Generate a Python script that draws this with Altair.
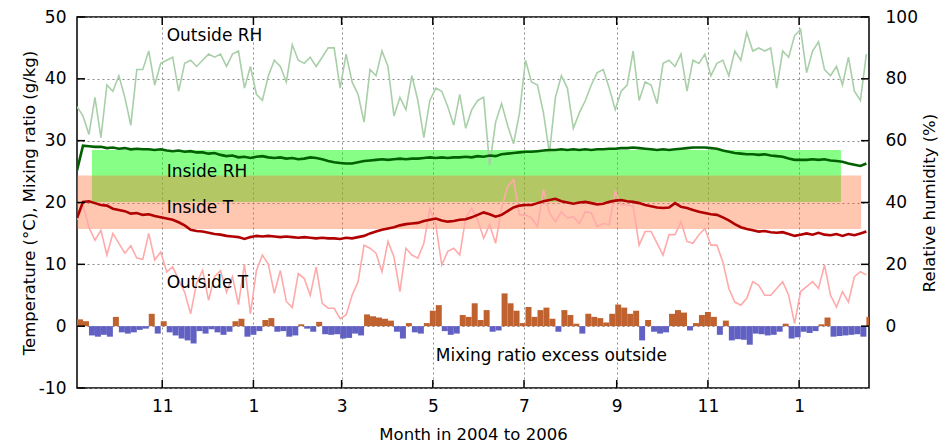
import altair as alt
import pandas as pd

# ---------------- data (one value every 4 days) ----------------
start_date = "2004-09-05"
step_days = 4

outside_rh = [71, 68, 62, 74, 61, 78, 76, 81, 74, 65, 83, 83, 89, 78, 85,
              86, 87, 76, 85, 86, 84, 86, 88, 87, 88, 84, 88, 89, 77, 84,
              75, 73, 81, 86, 84, 79, 91, 86, 85, 87, 84, 87, 90, 90, 77,
              88, 79, 75, 66, 83, 81, 89, 84, 68, 74, 70, 81, 73, 61, 73,
              77, 76, 71, 65, 75, 64, 70, 73, 74, 52, 66, 72, 65, 59, 69,
              86, 79, 78, 69, 56, 74, 81, 77, 64, 69, 73, 78, 82, 83, 77,
              70, 76, 78, 89, 73, 79, 78, 72, 85, 86, 84, 88, 76, 86, 85,
              88, 81, 85, 86, 81, 89, 86, 95, 89, 90, 89, 90, 77, 89, 87,
              94, 96, 82, 89, 92, 83, 81, 84, 78, 87, 76, 73, 88]

inside_rh = [50.4, 58.4, 58.2, 58.0, 58.0, 57.6, 57.8, 57.4, 57.6, 57.2, 57.4, 57.2, 57.2, 57.0, 57.2,
             56.8, 56.6, 56.8, 56.4, 56.6, 56.2, 56.2, 55.8, 56.0, 55.4, 55.0, 55.2, 54.6, 54.8, 54.4,
             54.8, 55.0, 54.6, 54.4, 54.6, 54.2, 54.4, 54.0, 54.2, 54.6, 54.4, 54.0, 53.4, 53.0, 52.8,
             52.6, 52.6, 53.0, 53.4, 53.6, 53.8, 54.0, 53.8, 54.0, 54.2, 54.0, 54.2, 54.2, 54.4, 54.6,
             54.4, 54.6, 54.4, 54.6, 54.6, 54.8, 54.6, 55.0, 54.8, 55.2, 55.0, 55.6, 55.8, 56.0, 56.2,
             56.4, 56.4, 56.6, 56.8, 57.0, 57.0, 57.2, 57.0, 57.2, 57.0, 57.2, 57.0, 57.2, 57.2, 57.4,
             57.4, 57.6, 57.6, 57.8, 57.6, 57.4, 57.2, 57.0, 57.2, 57.0, 57.2, 57.4, 57.6, 57.8, 57.8,
             57.8, 57.6, 57.4, 56.8, 56.4, 56.0, 55.8, 55.6, 55.6, 55.4, 55.6, 55.2, 55.0, 54.8, 54.2,
             53.8, 53.8, 53.8, 54.0, 53.8, 54.0, 53.6, 53.4, 53.2, 52.6, 52.2, 51.8, 52.6]

inside_t = [17.5, 20.1, 20.2, 19.9, 19.6, 19.5, 19.0, 18.8, 18.6, 18.2, 18.3, 18.0, 18.1, 17.8, 17.6,
            17.4, 17.2, 16.8, 16.3, 15.6, 15.4, 15.3, 15.1, 14.9, 14.8, 14.6, 14.5, 14.4, 14.1, 14.4,
            14.6, 14.5, 14.6, 14.5, 14.4, 14.5, 14.4, 14.3, 14.4, 14.3, 14.2, 14.3, 14.2, 14.2, 14.1,
            14.3, 14.2, 14.4, 14.6, 15.0, 15.3, 15.6, 15.8, 16.0, 16.3, 16.5, 16.6, 16.7, 17.0, 17.2,
            17.4, 17.1, 16.9, 17.0, 17.2, 17.3, 17.6, 18.0, 18.4, 18.1, 17.7, 18.0, 18.6, 19.2, 19.5,
            19.6, 19.6, 19.9, 20.2, 20.4, 20.6, 20.2, 20.0, 19.8, 20.0, 20.1, 19.9, 19.7, 19.8, 20.1,
            20.3, 20.4, 20.2, 20.1, 19.9, 19.6, 19.4, 19.2, 19.1, 19.2, 19.9, 19.3, 19.1, 18.8, 18.5,
            18.3, 18.1, 18.0, 17.6, 17.1, 16.5, 16.0, 15.7, 15.5, 15.3, 15.4, 15.2, 15.1, 15.2, 14.9,
            14.6, 14.8, 15.0, 14.8, 15.1, 14.8, 14.7, 14.9, 14.6, 14.9, 14.7, 15.0, 15.3]

outside_t = [17.2, 19.5, 16.0, 13.9, 15.5, 11.5, 15.0, 13.4, 11.8, 13.0, 11.0, 10.8, 15.0, 10.7, 12.0,
             8.8, 9.6, 7.5, 5.5, 2.0, 7.0, 9.0, 4.2, 8.0, 9.0, 5.5, 8.0, 3.5, 10.0, 2.0,
             9.0, 11.5, 10.0, 5.3, 9.0, 4.0, 3.0, 8.5, 7.7, 5.0, 9.6, 3.7, 2.9, 2.9, 1.2,
             1.8, 5.0, 7.2, 13.1, 12.6, 11.8, 8.8, 13.7, 11.2, 5.6, 12.6, 11.5, 11.0, 13.4, 19.0,
             16.4, 9.9, 12.1, 12.6, 11.5, 17.5, 19.1, 17.2, 14.2, 16.4, 13.4, 19.1, 22.6, 23.7, 18.0,
             18.0, 17.5, 16.1, 22.1, 18.3, 16.9, 18.5, 17.5, 17.7, 16.6, 18.5, 18.3, 16.1, 16.6, 16.4,
             21.8, 19.6, 19.6, 19.4, 13.1, 15.3, 15.3, 13.4, 11.5, 14.8, 14.8, 16.9, 13.7, 13.4, 14.8,
             15.8, 13.1, 13.1, 10.4, 6.1, 3.9, 3.4, 4.5, 7.2, 6.6, 5.0, 5.0, 6.1, 7.2, 5.0,
             0.4, 5.6, 6.4, 7.2, 6.1, 9.9, 5.0, 3.1, 5.6, 3.9, 8.0, 8.8, 8.3]

mix_excess = [1.1, 0.8, -1.5, -1.7, -1.4, -1.7, 1.5, -1.0, -1.2, -1.0, -0.6, -0.4, 2.0, -1.2, 0.8,
              -1.0, -1.5, -2.0, -2.3, -2.8, -0.8, -1.2, -0.5, -1.0, -1.4, -0.9, 0.8, 1.2, -1.7, -1.4,
              -0.8, 1.0, 1.3, -0.9, -0.8, -1.7, -1.5, 0.3, -0.4, -0.9, 0.7, -1.3, -1.4, -1.3, -2.0,
              -1.9, -1.2, -1.5, 1.9, 1.6, 1.4, 1.2, 0.9, -0.9, -2.0, 0.5, -1.0, -1.2, 0.5, 2.5,
              3.4, -0.8, -1.4, -1.2, 1.8, 1.5, 3.7, 1.0, 2.6, -0.9, -0.7, 5.3, 3.7, 2.5, 0.5,
              3.1, 1.5, 2.6, 3.0, 1.2, -0.9, 2.6, 1.8, 0.4, -1.2, 2.0, 1.5, 1.3, 0.6, 2.0,
              3.5, 3.0, 2.0, 2.5, -2.3, 1.0, -0.9, -1.2, -1.0, 2.0, 2.6, 2.2, -0.7, 0.5, 1.8,
              2.3, 1.5, -1.4, 0.9, -2.3, -2.1, -2.2, -3.0, -1.2, -1.3, -1.5, -1.4, -0.9, 0.4, -2.0,
              -1.8, -0.9, -1.1, -0.8, 0.3, 1.4, -1.7, -1.6, -1.5, -1.4, -1.3, -1.7, 1.5]

tick_months = ["2004-11-01", "2005-01-01", "2005-03-01", "2005-05-01",
               "2005-07-01", "2005-09-01", "2005-11-01", "2006-01-01"]
left_ticks = [-10, 0, 10, 20, 30, 40, 50]
right_ticks = [0, 20, 40, 60, 80, 100]

zone_start = ["2004-09-15 00:00", "2004-09-01 00:00"]
zone_end = ["2006-01-29 00:00", "2006-02-11 12:00"]
zone_low = [20.1, 15.7]
zone_high = [28.5, 24.35]

label_text = ["Outside RH", "Inside RH", "Inside T", "Outside T", "Mixing ratio excess outside"]
label_date = ["2004-11-04", "2004-11-04", "2004-11-04", "2004-11-04", "2005-05-03"]
label_value = [47.0, 25.0, 19.05, 7.0, -4.9]

# ---------------- tables ----------------
dates = pd.date_range(start_date, periods=len(outside_rh), freq=f"{step_days}D")
series = pd.DataFrame({
    "date": dates,
    "date_end": dates + pd.Timedelta(days=step_days),
    "outside_rh": outside_rh,
    "inside_rh": inside_rh,
    "inside_t": inside_t,
    "outside_t": outside_t,
    "mix": mix_excess,
})
zones = pd.DataFrame({"start": pd.to_datetime(zone_start, format="%Y-%m-%d %H:%M"),
                      "end": pd.to_datetime(zone_end, format="%Y-%m-%d %H:%M"),
                      "low": zone_low, "high": zone_high})
labels = pd.DataFrame({"text": label_text, "date": pd.to_datetime(label_date), "value": label_value})
month_df = pd.DataFrame({"date": pd.to_datetime(tick_months)})
left_df = pd.DataFrame({"v": left_ticks})
right_df = pd.DataFrame({"v": right_ticks})

W, H = 792, 371
FONT = "DejaVu Sans"
FS = 17
TFS = 16.5

xscale = alt.Scale(domain=[alt.DateTime(year=2004, month=9, date=5),
                           alt.DateTime(year=2006, month=2, date=16, hours=18)])
yscale = alt.Scale(domain=[-10, 50], nice=False, zero=False)
rhscale = alt.Scale(domain=[-20, 100], nice=False, zero=False)

xaxis = alt.Axis(values=[alt.DateTime(year=int(d[:4]), month=int(d[5:7]), date=1) for d in tick_months],
                 format="%-m", grid=True, gridDash=[2, 3], gridColor="#8a8a8a", gridWidth=1,
                 tickSize=0, domain=False, labelPadding=10, titlePadding=12,
                 title="Month in 2004 to 2006")
yaxis = alt.Axis(values=left_ticks, grid=True, gridDash=[2, 3], gridColor="#8a8a8a", gridWidth=1,
                 tickSize=0, domain=False, labelPadding=11, titlePadding=1,
                 labelExpr="toString(datum.value)",
                 title="Temperature (°C), Mixing ratio (g/kg)")
rhaxis = alt.Axis(values=right_ticks, orient="right", grid=False, tickSize=0, domain=False,
                  labelPadding=16, titlePadding=4, titleAngle=270, titleBaseline="top",
                  title="Relative humidity (%)")


def X(field):
    return alt.X(field, type="temporal", scale=xscale, axis=xaxis)


def Y(field):
    return alt.Y(field, type="quantitative", scale=yscale, axis=yaxis)


def YR(field):
    return alt.Y(field, type="quantitative", scale=rhscale, axis=rhaxis)


green = alt.Chart(zones.iloc[[0]]).mark_rect(color="#00ff00", opacity=0.47, clip=True).encode(
    x=X("start:T"), x2="end:T", y=Y("low:Q"), y2="high:Q")
orange = alt.Chart(zones.iloc[[1]]).mark_rect(color="#ff6828", opacity=0.37, clip=True).encode(
    x=X("start:T"), x2="end:T", y=Y("low:Q"), y2="high:Q")

bars = alt.Chart(series).mark_rect(clip=True).encode(
    x=X("date:T"), x2="date_end:T",
    y=Y("mix:Q"), y2=alt.datum(0),
    color=alt.condition(alt.datum.mix > 0, alt.value("#c0622f"), alt.value("#6161c4")))

out_t = alt.Chart(series).mark_line(color="#ffaaaa", strokeWidth=1.6, clip=True).encode(
    x=X("date:T"), y=Y("outside_t:Q"))
in_t = alt.Chart(series).mark_line(color="#b00000", strokeWidth=2.6, clip=True).encode(
    x=X("date:T"), y=Y("inside_t:Q"))

texts = alt.Chart(labels).mark_text(align="left", baseline="middle", font=FONT, fontSize=FS,
                                    color="black").encode(
    x=X("date:T"), y=Y("value:Q"), text="text:N")

tick_style = dict(color="black", strokeWidth=1.5)
top_ticks = alt.Chart(month_df).mark_rule(**tick_style).encode(
    x=X("date:T"), y=alt.value(0), y2=alt.value(8))
bottom_ticks = alt.Chart(month_df).mark_rule(**tick_style).encode(
    x=X("date:T"), y=alt.value(H - 8), y2=alt.value(H))
lticks = alt.Chart(left_df).mark_rule(**tick_style).encode(
    y=Y("v:Q"), x=alt.value(0), x2=alt.value(8))

left_group = alt.layer(green, orange, bars, out_t, in_t, texts, top_ticks, bottom_ticks, lticks)

out_rh = alt.Chart(series).mark_line(color="#a9cfa9", strokeWidth=1.6, clip=True).encode(
    x=X("date:T"), y=YR("outside_rh:Q"))
in_rh = alt.Chart(series).mark_line(color="#006000", strokeWidth=2.6, clip=True).encode(
    x=X("date:T"), y=YR("inside_rh:Q"))
rticks = alt.Chart(right_df).mark_rule(**tick_style).encode(
    y=YR("v:Q"), x=alt.value(W - 8), x2=alt.value(W))

right_group = alt.layer(out_rh, in_rh, rticks)

chart = alt.layer(left_group, right_group).resolve_scale(y="independent").properties(
    width=W, height=H,
    autosize=alt.AutoSizeParams(type="none"),
    padding={"left": 69, "top": 9, "right": 70, "bottom": 59},
).configure_view(stroke="black", strokeWidth=1.5).configure_axis(
    labelFont=FONT, labelFontSize=FS, labelColor="black",
    titleFont=FONT, titleFontSize=TFS, titleColor="black", titleFontWeight="normal",
)

chart.save("out.html", embed_options={"renderer": "svg", "actions": False})
